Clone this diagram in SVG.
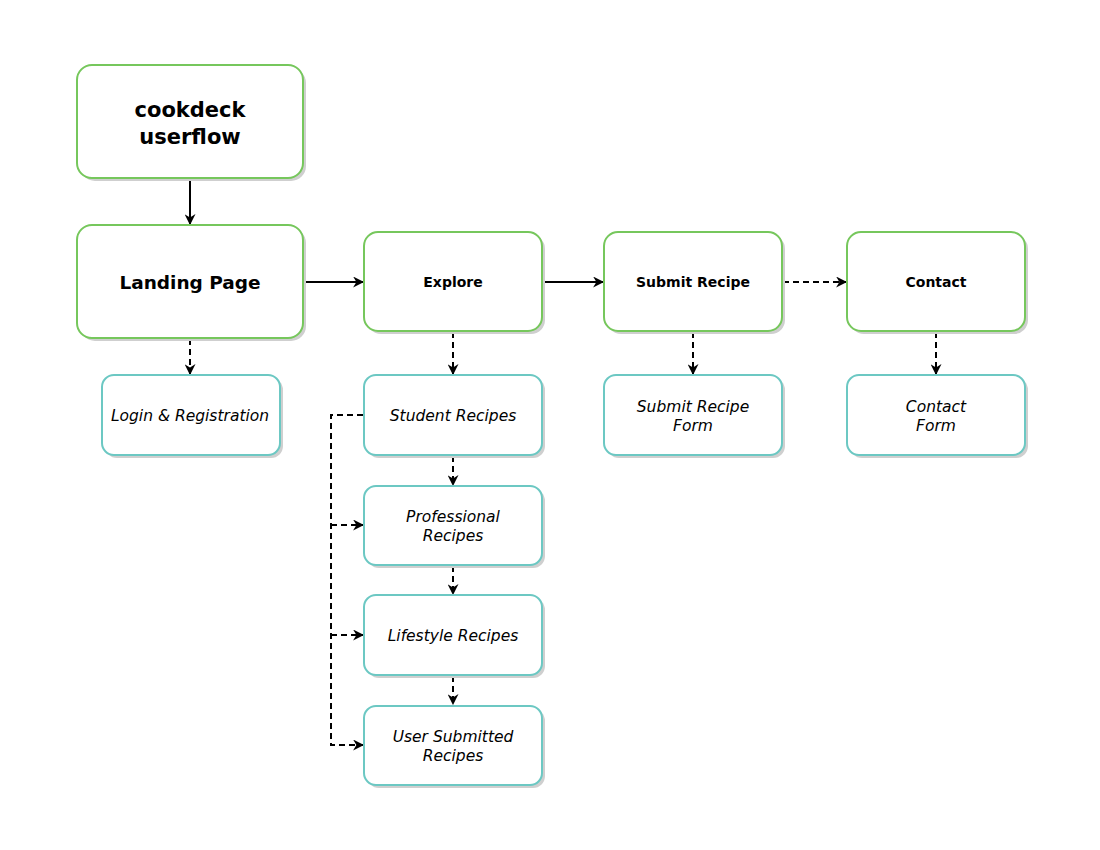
<svg xmlns="http://www.w3.org/2000/svg" width="1100" height="850" viewBox="0 0 1100 850">
<defs>
<style>
.g{fill:#fff;stroke:#76c75c;stroke-width:2}
.t{fill:#fff;stroke:#6cc8c3;stroke-width:2}
.sh{fill:#cfcfcf;stroke:none}
text{font-family:"DejaVu Sans","Open Sans","Liberation Sans",sans-serif;fill:#000;text-anchor:middle}
.b{font-weight:bold}
.i{font-style:italic;font-size:15.5px}
.c{fill:none;stroke:#000;stroke-width:2}
.d{stroke-dasharray:6 4}
</style>
<marker id="ah" viewBox="0 0 10 10" refX="9" refY="5" markerWidth="11" markerHeight="11" markerUnits="userSpaceOnUse" orient="auto">
<path d="M0,0 L10,5 L0,10 L3,5 z" fill="#000"/>
</marker>
</defs>
<rect width="1100" height="850" fill="#fff"/>
<g id="connectors">
<path class="c" d="M190,179 V224" marker-end="url(#ah)"/>
<path class="c" d="M304,282 H363" marker-end="url(#ah)"/>
<path class="c" d="M543,282 H603" marker-end="url(#ah)"/>
<path class="c d" d="M783,282 H846" marker-end="url(#ah)"/>
<path class="c d" d="M190,339 V374" marker-end="url(#ah)"/>
<path class="c d" d="M453,332 V374" marker-end="url(#ah)"/>
<path class="c d" d="M693,332 V374" marker-end="url(#ah)"/>
<path class="c d" d="M936,332 V374" marker-end="url(#ah)"/>
<path class="c d" d="M453,456 V485" marker-end="url(#ah)"/>
<path class="c d" d="M453,566 V594" marker-end="url(#ah)"/>
<path class="c d" d="M453,676 V704" marker-end="url(#ah)"/>
<path class="c d" d="M363,415 H331 V745 H363" marker-end="url(#ah)"/>
<path class="c d" d="M331,525 H363" marker-end="url(#ah)"/>
<path class="c d" d="M331,635 H363" marker-end="url(#ah)"/>
</g>
<g id="cookdeck">
<rect class="sh" x="80" y="68" width="226" height="113" rx="15"/>
<rect class="g" x="77" y="65" width="226" height="113" rx="15"/>
<text class="b" x="190" y="117" font-size="21">cookdeck</text>
<text class="b" x="190" y="144" font-size="21">userflow</text>
</g>
<g id="landing">
<rect class="sh" x="80" y="228" width="226" height="113" rx="15"/>
<rect class="g" x="77" y="225" width="226" height="113" rx="15"/>
<text class="b" x="190" y="289" font-size="18.5">Landing Page</text>
</g>
<g id="explore">
<rect class="sh" x="367" y="235" width="178" height="99" rx="14"/>
<rect class="g" x="364" y="232" width="178" height="99" rx="14"/>
<text class="b" x="453" y="287" font-size="14">Explore</text>
</g>
<g id="submit">
<rect class="sh" x="607" y="235" width="178" height="99" rx="14"/>
<rect class="g" x="604" y="232" width="178" height="99" rx="14"/>
<text class="b" x="693" y="287" font-size="14">Submit Recipe</text>
</g>
<g id="contact">
<rect class="sh" x="850" y="235" width="178" height="99" rx="14"/>
<rect class="g" x="847" y="232" width="178" height="99" rx="14"/>
<text class="b" x="936" y="287" font-size="14">Contact</text>
</g>
<g id="login">
<rect class="sh" x="105" y="378" width="178" height="80" rx="12"/>
<rect class="t" x="102" y="375" width="178" height="80" rx="12"/>
<text class="i" x="190" y="421">Login &amp; Registration</text>
</g>
<g id="submitform">
<rect class="sh" x="607" y="378" width="178" height="80" rx="12"/>
<rect class="t" x="604" y="375" width="178" height="80" rx="12"/>
<text class="i" x="693" y="412">Submit Recipe</text>
<text class="i" x="693" y="431">Form</text>
</g>
<g id="contactform">
<rect class="sh" x="850" y="378" width="178" height="80" rx="12"/>
<rect class="t" x="847" y="375" width="178" height="80" rx="12"/>
<text class="i" x="936" y="412">Contact</text>
<text class="i" x="936" y="431">Form</text>
</g>
<g id="student">
<rect class="sh" x="367" y="378" width="178" height="80" rx="12"/>
<rect class="t" x="364" y="375" width="178" height="80" rx="12"/>
<text class="i" x="453" y="421">Student Recipes</text>
</g>
<g id="professional">
<rect class="sh" x="367" y="489" width="178" height="79" rx="12"/>
<rect class="t" x="364" y="486" width="178" height="79" rx="12"/>
<text class="i" x="453" y="522">Professional</text>
<text class="i" x="453" y="541">Recipes</text>
</g>
<g id="lifestyle">
<rect class="sh" x="367" y="598" width="178" height="80" rx="12"/>
<rect class="t" x="364" y="595" width="178" height="80" rx="12"/>
<text class="i" x="453" y="641">Lifestyle Recipes</text>
</g>
<g id="usersubmitted">
<rect class="sh" x="367" y="709" width="178" height="79" rx="12"/>
<rect class="t" x="364" y="706" width="178" height="79" rx="12"/>
<text class="i" x="453" y="742">User Submitted</text>
<text class="i" x="453" y="761">Recipes</text>
</g>
</svg>
